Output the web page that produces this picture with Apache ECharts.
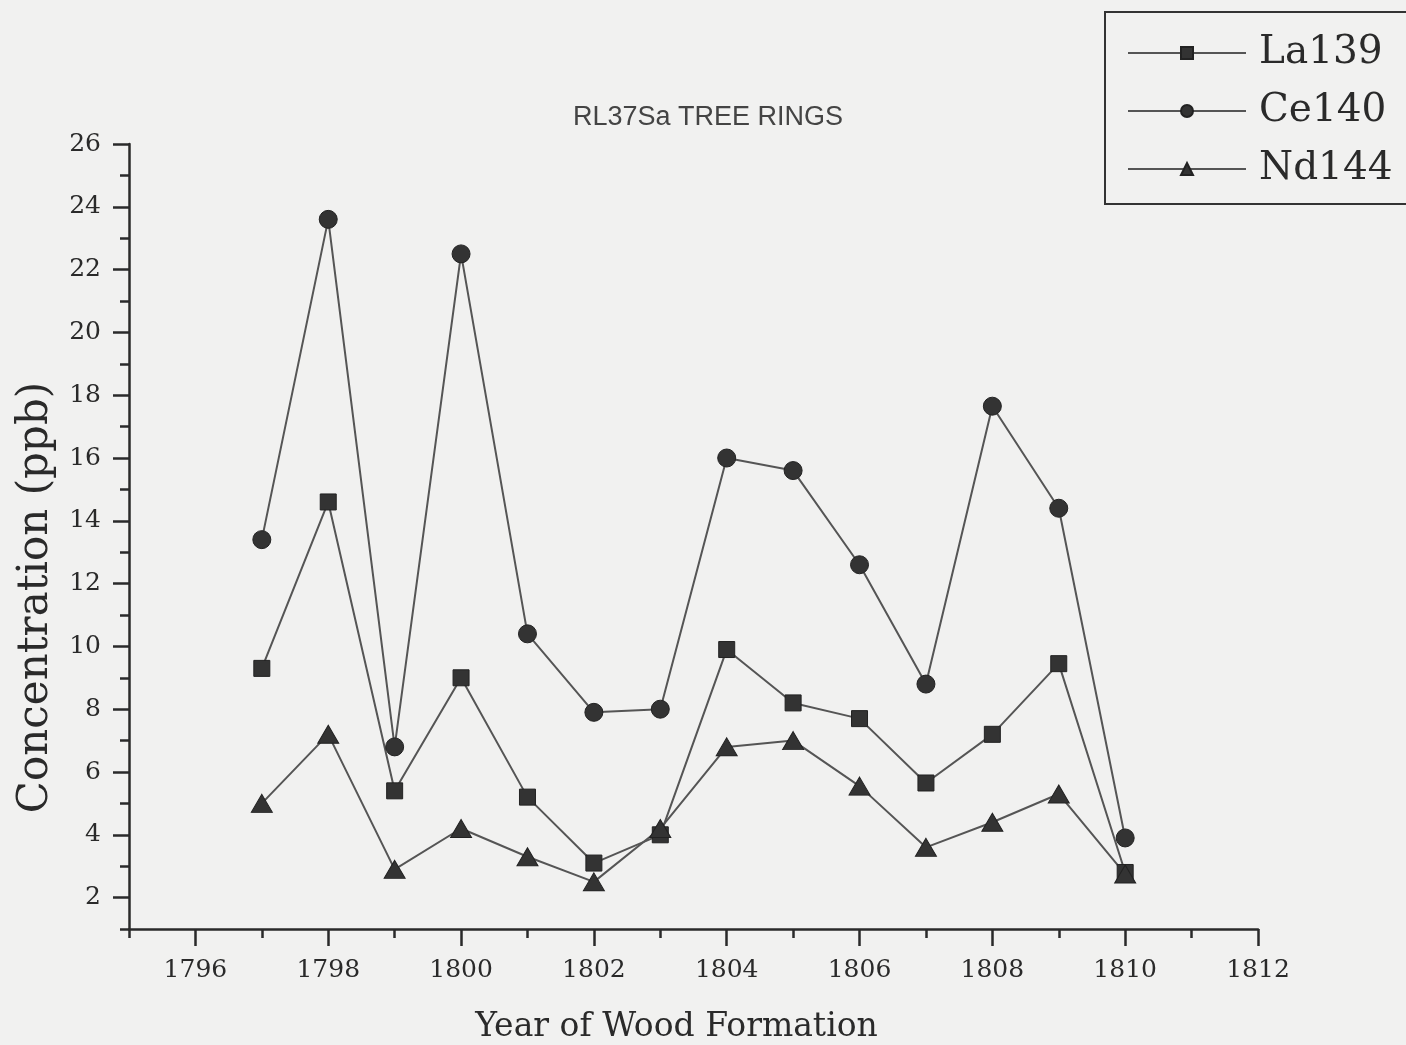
<!DOCTYPE html>
<html>
<head>
<meta charset="utf-8">
<script src="https://cdn.jsdelivr.net/npm/echarts@6/dist/echarts.min.js"></script>
<style>
html,body{margin:0;padding:0;background:#f1f1f0;}
#main{width:1406px;height:1045px;}
</style>
</head>
<body>
<div id="main"></div>
<script>
const years = [1797, 1798, 1799, 1800, 1801, 1802, 1803, 1804, 1805, 1806, 1807, 1808, 1809, 1810];
const la139 = [9.3, 14.6, 5.4, 9.0, 5.2, 3.1, 4.0, 9.9, 8.2, 7.7, 5.65, 7.2, 9.45, 2.8];
const ce140 = [13.4, 23.6, 6.8, 22.5, 10.4, 7.9, 8.0, 16.0, 15.6, 12.6, 8.8, 17.65, 14.4, 3.9];
const nd144 = [5.0, 7.2, 2.9, 4.2, 3.3, 2.5, 4.2, 6.8, 7.0, 5.55, 3.6, 4.4, 5.3, 2.75];
const xTickYears = ['1795','1796','1797','1798','1799','1800','1801','1802','1803','1804','1805','1806','1807','1808','1809','1810','1811','1812'];
const yTickValues = ['1','2','3','4','5','6','7','8','9','10','11','12','13','14','15','16','17','18','19','20','21','22','23','24','25','26'];

const pair = arr => years.map((y, i) => [y, arr[i]]);
const even = (i, v) => Number(v) % 2 === 0;
const ink = '#2a2a2a';
const serif = 'DejaVu Serif';

const chart = echarts.init(document.getElementById('main'));
chart.setOption({
  backgroundColor: '#f1f1f0',
  animation: false,
  title: {
    text: 'RL37Sa TREE RINGS',
    left: 703, top: 99, textAlign: 'center',
    textStyle: {fontFamily: 'Liberation Sans', fontSize: 27, fontWeight: 'normal', color: '#444'}
  },
  legend: {
    orient: 'vertical',
    left: 1105, top: 12,
    width: 300,
    padding: [18, 40, 12, 22],
    borderColor: '#333', borderWidth: 2,
    itemWidth: 118, itemHeight: 15, itemGap: 12,
    textStyle: {fontFamily: serif, fontSize: 39, color: ink, lineHeight: 46, padding: [0, 0, 0, 8]},
    data: ['La139', 'Ce140', 'Nd144']
  },
  grid: {left: 129, top: 144, width: 1129, height: 785, containLabel: false, outerBoundsMode: 'none'},
  xAxis: [
    {
      type: 'value', min: 1795, max: 1812, interval: 1, position: 'bottom',
      axisLine: {show: true, lineStyle: {color: ink, width: 2.5}},
      axisTick: {show: true, length: 9, lineStyle: {color: ink, width: 2.5}},
      axisLabel: {show: false}, splitLine: {show: false}
    },
    {
      type: 'category', data: xTickYears, boundaryGap: false, position: 'bottom',
      axisLine: {show: false},
      axisTick: {show: true, length: 17, interval: even, lineStyle: {color: ink, width: 2.5}},
      axisLabel: {show: true, interval: even, margin: 29, fontFamily: serif, fontSize: 25, color: ink},
      name: 'Year of Wood Formation', nameLocation: 'middle', nameGap: 82,
      nameTextStyle: {fontFamily: serif, fontSize: 33, color: ink, padding: [0, 34, 0, 0]},
      splitLine: {show: false}
    }
  ],
  yAxis: [
    {
      type: 'value', min: 1, max: 26, interval: 1, position: 'left',
      axisLine: {show: true, lineStyle: {color: ink, width: 2.5}},
      axisTick: {show: true, length: 9, lineStyle: {color: ink, width: 2.5}},
      axisLabel: {show: false}, splitLine: {show: false}
    },
    {
      type: 'category', data: yTickValues, boundaryGap: false, position: 'left',
      axisLine: {show: false},
      axisTick: {show: true, length: 16, interval: even, lineStyle: {color: ink, width: 2.5}},
      axisLabel: {show: true, interval: even, margin: 28, fontFamily: serif, fontSize: 25, color: ink},
      name: 'Concentration (ppb)', nameLocation: 'middle', nameGap: 72,
      nameTextStyle: {fontFamily: serif, fontSize: 42, color: ink, padding: [0, 122, 0, 0]},
      splitLine: {show: false}
    }
  ],
  series: [
    {
      name: 'La139', type: 'line', xAxisIndex: 0, yAxisIndex: 0,
      data: pair(la139), symbol: 'rect', symbolSize: 16,
      lineStyle: {color: '#555', width: 2}, itemStyle: {color: '#333', borderColor: '#222', borderWidth: 1}
    },
    {
      name: 'Ce140', type: 'line', xAxisIndex: 0, yAxisIndex: 0,
      data: pair(ce140), symbol: 'circle', symbolSize: 18,
      lineStyle: {color: '#555', width: 2}, itemStyle: {color: '#333', borderColor: '#222', borderWidth: 1}
    },
    {
      name: 'Nd144', type: 'line', xAxisIndex: 0, yAxisIndex: 0,
      data: pair(nd144), symbol: 'triangle', symbolSize: [21, 18],
      lineStyle: {color: '#555', width: 2}, itemStyle: {color: '#333', borderColor: '#222', borderWidth: 1}
    }
  ]
});
</script>
</body>
</html>
